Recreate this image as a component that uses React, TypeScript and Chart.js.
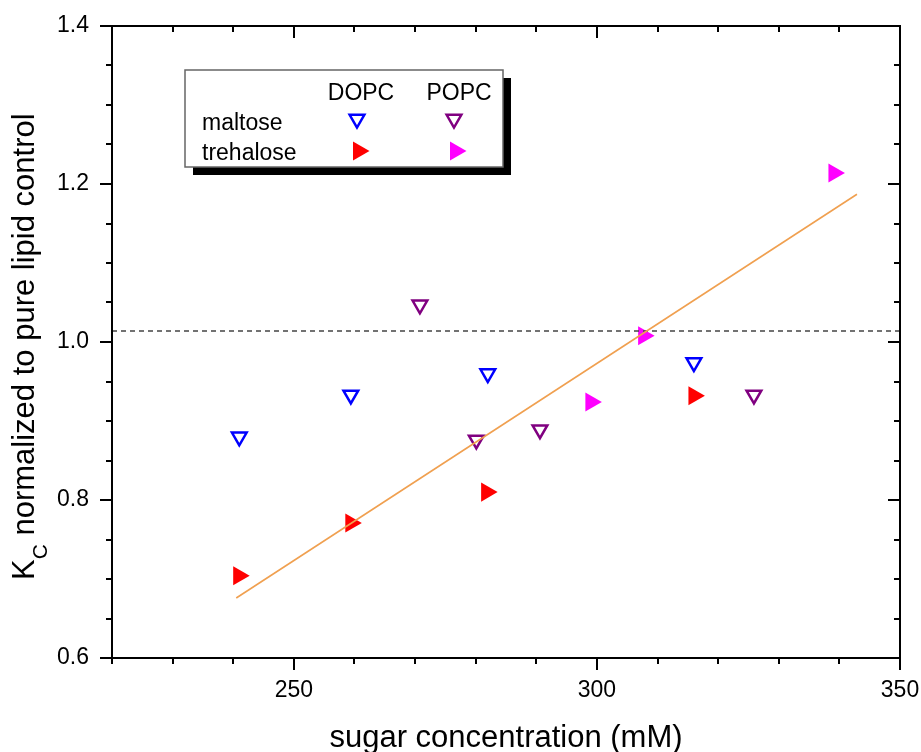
import React, { useEffect, useRef } from "react";
import { Chart, registerables } from "chart.js";
import { drawPoint } from "chart.js/helpers";

Chart.register(...registerables);

// ---- data ----
const dopcMaltoseX = [241.0, 259.4, 282.0, 316.0];
const dopcMaltoseY = [0.880, 0.933, 0.960, 0.974];
const popcMaltoseX = [270.8, 280.1, 290.6, 325.9];
const popcMaltoseY = [1.047, 0.876, 0.889, 0.933];
const dopcTrehaloseX = [240.9, 259.4, 281.8, 316.0];
const dopcTrehaloseY = [0.704, 0.771, 0.810, 0.932];
const popcTrehaloseX = [299.0, 307.7, 339.1];
const popcTrehaloseY = [0.924, 1.008, 1.214];
const fitX = [240.5, 342.9];
const fitY = [0.676, 1.187];
const controlLevel = 1.014;
const xRange = [220, 350];
const yRange = [0.6, 1.4];
const xMajorTicks = [250, 300, 350];
const yMajorTicks = [0.6, 0.8, 1.0, 1.2, 1.4];
const xMinorStep = 10;
const yMinorStep = 0.05;
const xTitle = "sugar concentration (mM)";
const yTitleMain = "K";
const yTitleSub = "C";
const yTitleRest = " normalized to pure lipid control";
const legendCols = ["DOPC", "POPC"];
const legendRows = ["maltose", "trehalose"];

const FONT = '"Liberation Sans", Arial, Helvetica, sans-serif';
const TICK_SIZE = 23;

const pts = (xs: number[], ys: number[]) => xs.map((x, i) => ({ x, y: ys[i] }));

const zeroPad = (s: any) => {
  s.paddingLeft = 0;
  s.paddingRight = 0;
  s.paddingTop = 0;
  s.paddingBottom = 0;
};

const framePlugin = {
  id: "frame",
  afterDraw(chart: any) {
    const ctx = chart.ctx as CanvasRenderingContext2D;
    const { left, right, top, bottom } = chart.chartArea;
    const xs = chart.scales.x;
    const ys = chart.scales.y;
    ctx.save();
    ctx.strokeStyle = "#000";
    ctx.lineWidth = 2;
    ctx.strokeRect(left, top, right - left, bottom - top);
    const major = 12;
    const minor = 6;
    ctx.beginPath();
    for (let v = xRange[0]; v <= xRange[1] + 1e-9; v += xMinorStep) {
      const isMajor = xMajorTicks.some((m) => Math.abs(m - v) < 1e-6);
      const len = isMajor ? major : minor;
      const px = Math.round(xs.getPixelForValue(v));
      ctx.moveTo(px, bottom);
      ctx.lineTo(px, bottom + len);
      ctx.moveTo(px, top);
      ctx.lineTo(px, top + len);
    }
    for (let i = 0; ; i++) {
      const v = yRange[0] + i * yMinorStep;
      if (v > yRange[1] + 1e-9) break;
      const isMajor = yMajorTicks.some((m) => Math.abs(m - v) < 1e-6);
      const len = isMajor ? major : minor;
      const py = Math.round(ys.getPixelForValue(v));
      ctx.moveTo(left, py);
      ctx.lineTo(left - len, py);
      ctx.moveTo(right, py);
      ctx.lineTo(right - len, py);
    }
    ctx.stroke();

    // axis titles
    ctx.fillStyle = "#000";
    ctx.font = `31px ${FONT}`;
    ctx.textAlign = "center";
    ctx.textBaseline = "alphabetic";
    ctx.fillText(xTitle, (left + right) / 2, 747);

    ctx.save();
    ctx.translate(34, 580);
    ctx.rotate(-Math.PI / 2);
    ctx.textAlign = "left";
    ctx.font = `31px ${FONT}`;
    ctx.fillText(yTitleMain, 0, 0);
    let w = ctx.measureText(yTitleMain).width;
    ctx.font = `21px ${FONT}`;
    ctx.fillText(yTitleSub, w, 13);
    w += ctx.measureText(yTitleSub).width;
    ctx.font = `31px ${FONT}`;
    ctx.fillText(yTitleRest, w, 0);
    ctx.restore();

    // legend
    const bx = 185, by = 70, bw = 318, bh = 97;
    ctx.fillStyle = "#000";
    ctx.fillRect(bx + 8, by + 8, bw, bh);
    ctx.fillStyle = "#fff";
    ctx.fillRect(bx, by, bw, bh);
    ctx.strokeStyle = "#666";
    ctx.lineWidth = 1.5;
    ctx.strokeRect(bx, by, bw, bh);

    ctx.fillStyle = "#000";
    ctx.font = `23px ${FONT}`;
    ctx.textAlign = "center";
    ctx.fillText(legendCols[0], 361, 100);
    ctx.fillText(legendCols[1], 459, 100);
    ctx.textAlign = "left";
    ctx.fillText(legendRows[0], 202, 130);
    ctx.fillText(legendRows[1], 202, 160);

    const marker = (x: number, y: number, color: string, open: boolean) => {
      ctx.save();
      if (open) {
        ctx.fillStyle = "#fff";
        ctx.strokeStyle = color;
        ctx.lineWidth = 2.5;
        drawPoint(ctx, { pointStyle: "triangle", radius: 8.5, rotation: 180, borderWidth: 2.5 } as any, x, y - 2);
      } else {
        ctx.fillStyle = color;
        ctx.strokeStyle = color;
        ctx.lineWidth = 0;
        drawPoint(ctx, { pointStyle: "triangle", radius: 11, rotation: 90, borderWidth: 0 } as any, x - 2.5, y);
      }
      ctx.restore();
    };
    marker(357, 121, "#0000ff", true);
    marker(454, 121, "#800080", true);
    marker(361, 151, "#ff0000", false);
    marker(458, 151, "#ff00ff", false);
    ctx.restore();
  },
};

export default function App() {
  const ref = useRef<HTMLCanvasElement | null>(null);
  useEffect(() => {
    if (!ref.current) return;
    const openStyle = (color: string) => ({
      pointStyle: "triangle" as const,
      pointRotation: 180,
      pointRadius: 8.5,
      pointBorderWidth: 2.5,
      borderColor: color,
      backgroundColor: "#ffffff",
      showLine: false,
    });
    const filledStyle = (color: string) => ({
      pointStyle: "triangle" as const,
      pointRotation: 90,
      pointRadius: 11,
      pointBorderWidth: 0,
      borderColor: color,
      backgroundColor: color,
      showLine: false,
    });
    const chart = new Chart(ref.current, {
      type: "scatter",
      data: {
        datasets: [
          {
            label: "fit",
            data: pts(fitX, fitY),
            showLine: true,
            borderColor: "#f0a050",
            borderWidth: 1.6,
            pointRadius: 0,
          } as any,
          {
            label: "control",
            data: pts(xRange, [controlLevel, controlLevel]),
            showLine: true,
            borderColor: "#444",
            borderWidth: 1.5,
            borderDash: [5, 4],
            pointRadius: 0,
          } as any,
          { label: "DOPC maltose", data: pts(dopcMaltoseX, dopcMaltoseY), ...openStyle("#0000ff") },
          { label: "POPC maltose", data: pts(popcMaltoseX, popcMaltoseY), ...openStyle("#800080") },
          { label: "DOPC trehalose", data: pts(dopcTrehaloseX, dopcTrehaloseY), ...filledStyle("#ff0000") },
          { label: "POPC trehalose", data: pts(popcTrehaloseX, popcTrehaloseY), ...filledStyle("#ff00ff") },
        ],
      },
      options: {
        animation: false,
        responsive: false,
        devicePixelRatio: 1,
        layout: { padding: { top: 26, right: 21, bottom: 0, left: 0 } },
        plugins: { legend: { display: false }, tooltip: { enabled: false } },
        scales: {
          x: {
            type: "linear",
            min: xRange[0],
            max: xRange[1],
            afterBuildTicks: (s: any) => {
              s.ticks = xMajorTicks.map((v) => ({ value: v }));
            },
            afterFit: (s: any) => {
              s.height = 94;
              zeroPad(s);
            },
            grid: { display: false, drawTicks: false },
            border: { display: false },
            ticks: {
              padding: 19,
              color: "#000",
              font: { family: FONT, size: TICK_SIZE },
              maxRotation: 0,
            },
          },
          y: {
            type: "linear",
            min: yRange[0],
            max: yRange[1],
            afterBuildTicks: (s: any) => {
              s.ticks = yMajorTicks.map((v) => ({ value: v }));
            },
            afterFit: (s: any) => {
              s.width = 112;
              zeroPad(s);
            },
            grid: { display: false, drawTicks: false },
            border: { display: false },
            ticks: {
              padding: 23,
              color: "#000",
              font: { family: FONT, size: TICK_SIZE },
              callback: (v: any) => Number(v).toFixed(1),
            },
          },
        },
      } as any,
      plugins: [framePlugin],
    });
    return () => chart.destroy();
  }, []);
  return (
    <div style={{ position: "absolute", left: 0, top: 0, width: 921, height: 752, background: "#fff" }}>
      <canvas ref={ref} width={921} height={752} style={{ display: "block" }} />
    </div>
  );
}
